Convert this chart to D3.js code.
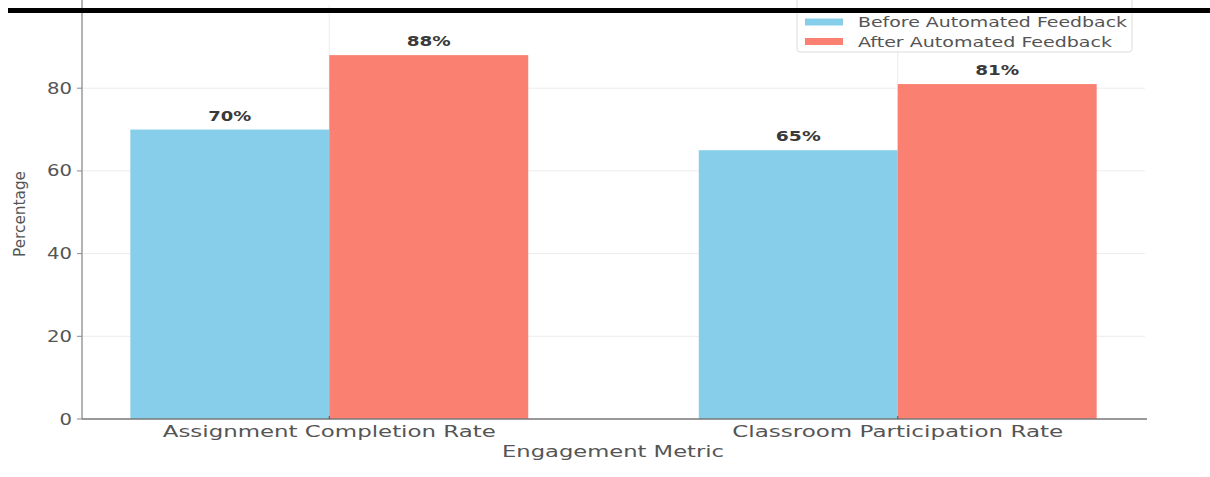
<!DOCTYPE html>
<html>
<head>
<meta charset="utf-8">
<script src="https://cdn.jsdelivr.net/npm/d3@7"></script>
<style>
  html, body { margin: 0; padding: 0; background: #fff; }
  svg { display: block; }
  text { font-family: "DejaVu Sans", sans-serif; }
</style>
</head>
<body>
<svg id="chart" width="1210" height="477"></svg>
<script>
const categories = ["Assignment Completion Rate", "Classroom Participation Rate"];
const seriesNames = ["Before Automated Feedback", "After Automated Feedback"];
const beforeValues = [70, 65];
const afterValues = [88, 81];
const yTicks = [0, 20, 40, 60, 80];
const colors = ["#87CEEB", "#FA8072"];

const svg = d3.select("#chart");
const x = d3.scaleLinear().domain([-0.435, 1.435]).range([82, 1145]);
const y = d3.scaleLinear().domain([0, 100]).range([419, 5.5]);
const barW = 0.35;

// grid
const grid = svg.append("g");
grid.selectAll("line.h").data(yTicks.filter(d => d > 0)).join("line")
  .attr("x1", x.range()[0]).attr("x2", x.range()[1])
  .attr("y1", d => y(d)).attr("y2", d => y(d))
  .attr("stroke", "#ececec").attr("stroke-width", 1);
grid.selectAll("line.v").data(categories).join("line")
  .attr("x1", (d, i) => x(i)).attr("x2", (d, i) => x(i))
  .attr("y1", y(100)).attr("y2", y(0))
  .attr("stroke", "#ececec").attr("stroke-width", 1);

// bars
const series = [beforeValues, afterValues];
const offsets = [-barW, 0];
series.forEach((vals, s) => {
  svg.append("g").selectAll("rect").data(vals).join("rect")
    .attr("x", (d, i) => x(i + offsets[s]))
    .attr("width", x(barW) - x(0))
    .attr("y", d => y(d))
    .attr("height", d => y(0) - y(d))
    .attr("fill", colors[s]);
});

// value labels
const labelW = [[43, 45], [44, 44]];
series.forEach((vals, s) => {
  svg.append("g").selectAll("text").data(vals).join("text")
    .attr("x", (d, i) => x(i + offsets[s] + barW / 2))
    .attr("y", d => y(d) - 9)
    .attr("text-anchor", "middle")
    .attr("font-size", 13.5).attr("font-weight", "bold").attr("fill", "#3a3a3a")
    .attr("textLength", (d, i) => labelW[s][i]).attr("lengthAdjust", "spacingAndGlyphs")
    .text(d => d + "%");
});

// axes lines
svg.append("line").attr("x1", x.range()[0]).attr("x2", x.range()[0])
  .attr("y1", 0).attr("y2", y(0)).attr("stroke", "#8a8a8a").attr("stroke-width", 1.3);
svg.append("line").attr("x1", x.range()[0]).attr("x2", x.range()[1] + 2)
  .attr("y1", y(0)).attr("y2", y(0)).attr("stroke", "#777").attr("stroke-width", 1.3);

// y ticks
const yt = svg.append("g");
yt.selectAll("line").data(yTicks).join("line")
  .attr("x1", x.range()[0] - 5).attr("x2", x.range()[0])
  .attr("y1", d => y(d)).attr("y2", d => y(d))
  .attr("stroke", "#8a8a8a");
yt.selectAll("text").data(yTicks).join("text")
  .attr("x", x.range()[0] - 10).attr("y", d => y(d) + 5.5)
  .attr("text-anchor", "end").attr("font-size", 15.5).attr("fill", "#555")
  .attr("textLength", d => String(d).length * 12.5).attr("lengthAdjust", "spacingAndGlyphs")
  .text(d => d);

// x ticks
const xLabelW = [333, 331];
const xt = svg.append("g");
xt.selectAll("line").data(categories).join("line")
  .attr("x1", (d, i) => x(i)).attr("x2", (d, i) => x(i))
  .attr("y1", y(0) - 3).attr("y2", y(0))
  .attr("stroke", "#555");
xt.selectAll("text").data(categories).join("text")
  .attr("x", (d, i) => x(i)).attr("y", 437)
  .attr("text-anchor", "middle").attr("font-size", 16).attr("fill", "#555")
  .attr("textLength", (d, i) => xLabelW[i]).attr("lengthAdjust", "spacingAndGlyphs")
  .text(d => d);

// axis titles
svg.append("text").attr("x", 613).attr("y", 457)
  .attr("text-anchor", "middle").attr("font-size", 16).attr("fill", "#555")
  .attr("textLength", 222).attr("lengthAdjust", "spacingAndGlyphs")
  .text("Engagement Metric");
svg.append("text").attr("transform", "translate(25,214) rotate(-90)")
  .attr("text-anchor", "middle").attr("font-size", 16).attr("fill", "#555")
  .attr("textLength", 86).attr("lengthAdjust", "spacingAndGlyphs")
  .text("Percentage");

// legend
const lg = svg.append("g");
lg.append("rect").attr("x", 797).attr("y", -6).attr("width", 335).attr("height", 58)
  .attr("rx", 3).attr("fill", "#fff").attr("fill-opacity", 0.85)
  .attr("stroke", "#dcdcdc");
const legW = [269, 254];
seriesNames.forEach((name, i) => {
  lg.append("rect").attr("x", 805).attr("y", 18.5 + i * 19.5).attr("width", 38).attr("height", 7)
    .attr("fill", colors[i]);
  lg.append("text").attr("x", 858).attr("y", 27 + i * 19.5)
    .attr("font-size", 14).attr("fill", "#555")
    .attr("textLength", legW[i]).attr("lengthAdjust", "spacingAndGlyphs")
    .text(name);
});

// top rule of the page
svg.append("rect").attr("x", 8).attr("y", 8).attr("width", 1202).attr("height", 5).attr("fill", "#000");
</script>
</body>
</html>
